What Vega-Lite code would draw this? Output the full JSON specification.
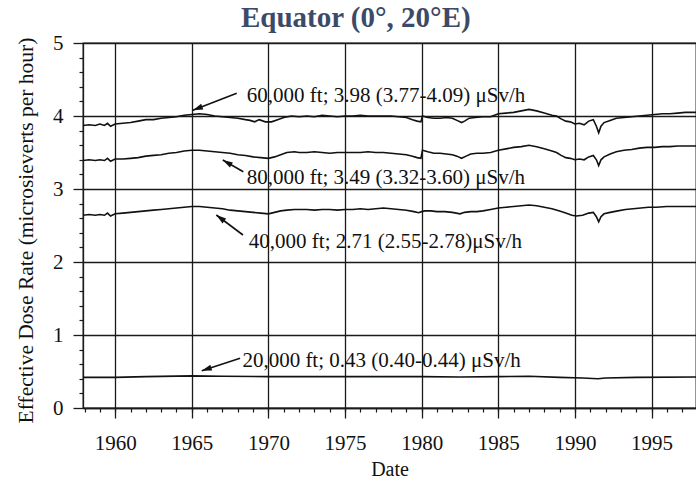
{
  "$schema": "https://vega.github.io/schema/vega-lite/v6.json",
  "autosize": {"type": "none"},
  "width": 613,
  "height": 365,
  "padding": {"left": 83, "top": 43, "right": 0, "bottom": 72},
  "background": "white",
  "title": {
    "text": "Equator (0°, 20°E)",
    "font": "Liberation Serif",
    "fontSize": 29,
    "fontWeight": "bold",
    "color": "#3b4a68",
    "anchor": "start",
    "frame": "group",
    "dx": 158,
    "baseline": "alphabetic",
    "offset": -24
  },
  "config": {
    "view": {"stroke": "#1a1a1a", "strokeWidth": 1.3},
    "font": "Liberation Serif"
  },
  "datasets": {
    "series": [
      {"s":"60k","t":1957.9,"v":3.87},{"s":"60k","t":1958.3,"v":3.88},{"s":"60k","t":1958.7,"v":3.87},{"s":"60k","t":1959.0,"v":3.89},{"s":"60k","t":1959.3,"v":3.87},{"s":"60k","t":1959.5,"v":3.9},{"s":"60k","t":1959.7,"v":3.86},{"s":"60k","t":1960.0,"v":3.89},{"s":"60k","t":1960.5,"v":3.9},{"s":"60k","t":1961.0,"v":3.91},{"s":"60k","t":1961.5,"v":3.93},{"s":"60k","t":1962.0,"v":3.95},{"s":"60k","t":1962.5,"v":3.95},{"s":"60k","t":1963.0,"v":3.97},{"s":"60k","t":1963.5,"v":3.98},{"s":"60k","t":1964.0,"v":3.99},{"s":"60k","t":1964.5,"v":4.01},{"s":"60k","t":1965.0,"v":4.02},{"s":"60k","t":1965.5,"v":4.03},{"s":"60k","t":1966.0,"v":4.02},{"s":"60k","t":1966.5,"v":4.0},{"s":"60k","t":1967.0,"v":3.99},{"s":"60k","t":1967.5,"v":3.98},{"s":"60k","t":1968.0,"v":3.97},{"s":"60k","t":1968.5,"v":3.95},{"s":"60k","t":1968.8,"v":3.94},{"s":"60k","t":1969.1,"v":3.92},{"s":"60k","t":1969.4,"v":3.95},{"s":"60k","t":1969.8,"v":3.92},{"s":"60k","t":1970.2,"v":3.92},{"s":"60k","t":1970.6,"v":3.95},{"s":"60k","t":1971.0,"v":3.98},{"s":"60k","t":1971.5,"v":4.0},{"s":"60k","t":1972.0,"v":3.99},{"s":"60k","t":1972.5,"v":4.0},{"s":"60k","t":1973.0,"v":3.99},{"s":"60k","t":1973.5,"v":4.01},{"s":"60k","t":1974.0,"v":4.0},{"s":"60k","t":1974.5,"v":3.99},{"s":"60k","t":1975.0,"v":4.0},{"s":"60k","t":1975.5,"v":4.0},{"s":"60k","t":1976.0,"v":4.01},{"s":"60k","t":1976.5,"v":4.0},{"s":"60k","t":1977.0,"v":4.0},{"s":"60k","t":1977.5,"v":4.0},{"s":"60k","t":1978.0,"v":4.0},{"s":"60k","t":1978.5,"v":3.99},{"s":"60k","t":1979.0,"v":3.98},{"s":"60k","t":1979.4,"v":3.95},{"s":"60k","t":1979.7,"v":3.93},{"s":"60k","t":1979.95,"v":3.92},{"s":"60k","t":1980.05,"v":4.0},{"s":"60k","t":1980.4,"v":3.98},{"s":"60k","t":1980.8,"v":3.97},{"s":"60k","t":1981.2,"v":3.97},{"s":"60k","t":1981.6,"v":3.98},{"s":"60k","t":1982.0,"v":3.97},{"s":"60k","t":1982.3,"v":3.94},{"s":"60k","t":1982.6,"v":3.91},{"s":"60k","t":1982.8,"v":3.93},{"s":"60k","t":1983.1,"v":3.97},{"s":"60k","t":1983.5,"v":3.98},{"s":"60k","t":1984.0,"v":3.99},{"s":"60k","t":1984.5,"v":3.99},{"s":"60k","t":1985.0,"v":4.03},{"s":"60k","t":1985.5,"v":4.04},{"s":"60k","t":1986.0,"v":4.05},{"s":"60k","t":1986.5,"v":4.07},{"s":"60k","t":1987.0,"v":4.09},{"s":"60k","t":1987.5,"v":4.07},{"s":"60k","t":1988.0,"v":4.04},{"s":"60k","t":1988.5,"v":4.01},{"s":"60k","t":1988.8,"v":4.0},{"s":"60k","t":1989.1,"v":3.96},{"s":"60k","t":1989.4,"v":3.93},{"s":"60k","t":1989.7,"v":3.92},{"s":"60k","t":1990.0,"v":3.89},{"s":"60k","t":1990.3,"v":3.9},{"s":"60k","t":1990.6,"v":3.88},{"s":"60k","t":1990.9,"v":3.93},{"s":"60k","t":1991.2,"v":3.95},{"s":"60k","t":1991.4,"v":3.86},{"s":"60k","t":1991.55,"v":3.77},{"s":"60k","t":1991.7,"v":3.86},{"s":"60k","t":1991.9,"v":3.91},{"s":"60k","t":1992.3,"v":3.94},{"s":"60k","t":1992.7,"v":3.97},{"s":"60k","t":1993.2,"v":3.98},{"s":"60k","t":1993.7,"v":3.99},{"s":"60k","t":1994.2,"v":4.0},{"s":"60k","t":1994.7,"v":4.01},{"s":"60k","t":1995.2,"v":4.02},{"s":"60k","t":1995.7,"v":4.03},{"s":"60k","t":1996.2,"v":4.03},{"s":"60k","t":1996.7,"v":4.04},{"s":"60k","t":1997.2,"v":4.05},{"s":"60k","t":1997.9,"v":4.05},
      {"s":"80k","t":1957.9,"v":3.39},{"s":"80k","t":1958.3,"v":3.4},{"s":"80k","t":1958.7,"v":3.39},{"s":"80k","t":1959.0,"v":3.4},{"s":"80k","t":1959.3,"v":3.39},{"s":"80k","t":1959.5,"v":3.42},{"s":"80k","t":1959.7,"v":3.38},{"s":"80k","t":1960.0,"v":3.41},{"s":"80k","t":1960.5,"v":3.41},{"s":"80k","t":1961.0,"v":3.42},{"s":"80k","t":1961.5,"v":3.43},{"s":"80k","t":1962.0,"v":3.45},{"s":"80k","t":1962.5,"v":3.46},{"s":"80k","t":1963.0,"v":3.47},{"s":"80k","t":1963.5,"v":3.49},{"s":"80k","t":1964.0,"v":3.5},{"s":"80k","t":1964.5,"v":3.52},{"s":"80k","t":1965.0,"v":3.53},{"s":"80k","t":1965.5,"v":3.53},{"s":"80k","t":1966.0,"v":3.52},{"s":"80k","t":1966.5,"v":3.51},{"s":"80k","t":1967.0,"v":3.5},{"s":"80k","t":1967.5,"v":3.49},{"s":"80k","t":1968.0,"v":3.47},{"s":"80k","t":1968.5,"v":3.46},{"s":"80k","t":1969.0,"v":3.44},{"s":"80k","t":1969.5,"v":3.43},{"s":"80k","t":1970.0,"v":3.42},{"s":"80k","t":1970.4,"v":3.44},{"s":"80k","t":1970.8,"v":3.47},{"s":"80k","t":1971.2,"v":3.5},{"s":"80k","t":1971.7,"v":3.51},{"s":"80k","t":1972.0,"v":3.5},{"s":"80k","t":1972.5,"v":3.5},{"s":"80k","t":1973.0,"v":3.51},{"s":"80k","t":1973.5,"v":3.5},{"s":"80k","t":1974.0,"v":3.49},{"s":"80k","t":1974.5,"v":3.5},{"s":"80k","t":1975.0,"v":3.5},{"s":"80k","t":1975.5,"v":3.5},{"s":"80k","t":1976.0,"v":3.5},{"s":"80k","t":1976.5,"v":3.51},{"s":"80k","t":1977.0,"v":3.5},{"s":"80k","t":1977.5,"v":3.5},{"s":"80k","t":1978.0,"v":3.49},{"s":"80k","t":1978.5,"v":3.48},{"s":"80k","t":1979.0,"v":3.47},{"s":"80k","t":1979.4,"v":3.45},{"s":"80k","t":1979.7,"v":3.43},{"s":"80k","t":1979.95,"v":3.42},{"s":"80k","t":1980.05,"v":3.53},{"s":"80k","t":1980.4,"v":3.51},{"s":"80k","t":1980.8,"v":3.49},{"s":"80k","t":1981.2,"v":3.49},{"s":"80k","t":1981.6,"v":3.48},{"s":"80k","t":1982.0,"v":3.47},{"s":"80k","t":1982.3,"v":3.45},{"s":"80k","t":1982.6,"v":3.42},{"s":"80k","t":1982.9,"v":3.45},{"s":"80k","t":1983.2,"v":3.48},{"s":"80k","t":1983.6,"v":3.49},{"s":"80k","t":1984.0,"v":3.49},{"s":"80k","t":1984.5,"v":3.5},{"s":"80k","t":1985.0,"v":3.53},{"s":"80k","t":1985.5,"v":3.55},{"s":"80k","t":1986.0,"v":3.57},{"s":"80k","t":1986.5,"v":3.58},{"s":"80k","t":1987.0,"v":3.6},{"s":"80k","t":1987.5,"v":3.58},{"s":"80k","t":1988.0,"v":3.55},{"s":"80k","t":1988.5,"v":3.52},{"s":"80k","t":1988.8,"v":3.5},{"s":"80k","t":1989.1,"v":3.46},{"s":"80k","t":1989.4,"v":3.43},{"s":"80k","t":1989.7,"v":3.42},{"s":"80k","t":1990.0,"v":3.4},{"s":"80k","t":1990.3,"v":3.41},{"s":"80k","t":1990.6,"v":3.4},{"s":"80k","t":1990.9,"v":3.44},{"s":"80k","t":1991.2,"v":3.46},{"s":"80k","t":1991.4,"v":3.4},{"s":"80k","t":1991.55,"v":3.32},{"s":"80k","t":1991.7,"v":3.4},{"s":"80k","t":1991.9,"v":3.44},{"s":"80k","t":1992.3,"v":3.48},{"s":"80k","t":1992.7,"v":3.51},{"s":"80k","t":1993.2,"v":3.53},{"s":"80k","t":1993.7,"v":3.54},{"s":"80k","t":1994.2,"v":3.56},{"s":"80k","t":1994.7,"v":3.57},{"s":"80k","t":1995.2,"v":3.57},{"s":"80k","t":1995.7,"v":3.58},{"s":"80k","t":1996.2,"v":3.58},{"s":"80k","t":1996.7,"v":3.59},{"s":"80k","t":1997.2,"v":3.59},{"s":"80k","t":1997.9,"v":3.59},
      {"s":"40k","t":1957.9,"v":2.64},{"s":"40k","t":1958.3,"v":2.65},{"s":"40k","t":1958.7,"v":2.64},{"s":"40k","t":1959.0,"v":2.65},{"s":"40k","t":1959.3,"v":2.64},{"s":"40k","t":1959.5,"v":2.67},{"s":"40k","t":1959.7,"v":2.63},{"s":"40k","t":1960.0,"v":2.66},{"s":"40k","t":1960.5,"v":2.67},{"s":"40k","t":1961.0,"v":2.68},{"s":"40k","t":1961.5,"v":2.69},{"s":"40k","t":1962.0,"v":2.7},{"s":"40k","t":1962.5,"v":2.71},{"s":"40k","t":1963.0,"v":2.72},{"s":"40k","t":1963.5,"v":2.73},{"s":"40k","t":1964.0,"v":2.74},{"s":"40k","t":1964.5,"v":2.75},{"s":"40k","t":1965.0,"v":2.76},{"s":"40k","t":1965.5,"v":2.76},{"s":"40k","t":1966.0,"v":2.75},{"s":"40k","t":1966.5,"v":2.74},{"s":"40k","t":1967.0,"v":2.73},{"s":"40k","t":1967.5,"v":2.71},{"s":"40k","t":1968.0,"v":2.7},{"s":"40k","t":1968.5,"v":2.69},{"s":"40k","t":1969.0,"v":2.68},{"s":"40k","t":1969.5,"v":2.67},{"s":"40k","t":1970.0,"v":2.66},{"s":"40k","t":1970.4,"v":2.68},{"s":"40k","t":1970.8,"v":2.7},{"s":"40k","t":1971.2,"v":2.71},{"s":"40k","t":1971.7,"v":2.72},{"s":"40k","t":1972.5,"v":2.72},{"s":"40k","t":1973.0,"v":2.71},{"s":"40k","t":1973.5,"v":2.72},{"s":"40k","t":1974.0,"v":2.72},{"s":"40k","t":1974.5,"v":2.71},{"s":"40k","t":1975.0,"v":2.72},{"s":"40k","t":1975.5,"v":2.72},{"s":"40k","t":1976.0,"v":2.73},{"s":"40k","t":1976.5,"v":2.72},{"s":"40k","t":1977.0,"v":2.73},{"s":"40k","t":1977.5,"v":2.74},{"s":"40k","t":1978.0,"v":2.73},{"s":"40k","t":1978.5,"v":2.72},{"s":"40k","t":1979.0,"v":2.71},{"s":"40k","t":1979.5,"v":2.69},{"s":"40k","t":1979.8,"v":2.675},{"s":"40k","t":1980.0,"v":2.69},{"s":"40k","t":1980.2,"v":2.7},{"s":"40k","t":1980.6,"v":2.7},{"s":"40k","t":1981.0,"v":2.69},{"s":"40k","t":1981.5,"v":2.69},{"s":"40k","t":1982.0,"v":2.68},{"s":"40k","t":1982.5,"v":2.66},{"s":"40k","t":1982.8,"v":2.68},{"s":"40k","t":1983.2,"v":2.69},{"s":"40k","t":1983.6,"v":2.69},{"s":"40k","t":1984.0,"v":2.7},{"s":"40k","t":1984.5,"v":2.72},{"s":"40k","t":1985.0,"v":2.74},{"s":"40k","t":1985.5,"v":2.75},{"s":"40k","t":1986.0,"v":2.76},{"s":"40k","t":1986.5,"v":2.77},{"s":"40k","t":1987.0,"v":2.78},{"s":"40k","t":1987.5,"v":2.77},{"s":"40k","t":1988.0,"v":2.75},{"s":"40k","t":1988.5,"v":2.73},{"s":"40k","t":1989.0,"v":2.7},{"s":"40k","t":1989.4,"v":2.67},{"s":"40k","t":1989.8,"v":2.64},{"s":"40k","t":1990.1,"v":2.63},{"s":"40k","t":1990.5,"v":2.64},{"s":"40k","t":1990.9,"v":2.67},{"s":"40k","t":1991.2,"v":2.68},{"s":"40k","t":1991.4,"v":2.62},{"s":"40k","t":1991.55,"v":2.55},{"s":"40k","t":1991.7,"v":2.62},{"s":"40k","t":1991.9,"v":2.66},{"s":"40k","t":1992.3,"v":2.68},{"s":"40k","t":1992.8,"v":2.7},{"s":"40k","t":1993.3,"v":2.72},{"s":"40k","t":1993.8,"v":2.73},{"s":"40k","t":1994.3,"v":2.74},{"s":"40k","t":1994.8,"v":2.75},{"s":"40k","t":1995.3,"v":2.75},{"s":"40k","t":1996.0,"v":2.76},{"s":"40k","t":1996.7,"v":2.76},{"s":"40k","t":1997.3,"v":2.76},{"s":"40k","t":1997.9,"v":2.76},
      {"s":"20k","t":1957.9,"v":0.42},{"s":"20k","t":1960.0,"v":0.42},{"s":"20k","t":1962.0,"v":0.43},{"s":"20k","t":1965.0,"v":0.44},{"s":"20k","t":1967.0,"v":0.435},{"s":"20k","t":1970.0,"v":0.43},{"s":"20k","t":1975.0,"v":0.43},{"s":"20k","t":1980.0,"v":0.43},{"s":"20k","t":1982.5,"v":0.425},{"s":"20k","t":1985.0,"v":0.43},{"s":"20k","t":1987.0,"v":0.435},{"s":"20k","t":1989.0,"v":0.42},{"s":"20k","t":1990.5,"v":0.41},{"s":"20k","t":1991.5,"v":0.4},{"s":"20k","t":1992.0,"v":0.41},{"s":"20k","t":1994.0,"v":0.42},{"s":"20k","t":1997.9,"v":0.425}
    ],
    "notes": [
      {"s":"60k","tx":1968.59,"ty":4.196,"label":"60,000 ft; 3.98 (3.77-4.09) μSv/h"},
      {"s":"80k","tx":1968.58,"ty":3.063,"label":"80,000 ft; 3.49 (3.32-3.60) μSv/h"},
      {"s":"40k","tx":1968.72,"ty":2.19,"label":"40,000 ft; 2.71 (2.55-2.78)μSv/h"},
      {"s":"20k","tx":1968.3,"ty":0.557,"label":"20,000 ft; 0.43 (0.40-0.44) μSv/h"}
    ],
    "arrows": [
      {"s":"60k","x1":1967.93,"y1":4.31,"x2":1965.07,"y2":4.08},
      {"s":"80k","x1":1968.36,"y1":3.237,"x2":1967.02,"y2":3.397},
      {"s":"40k","x1":1968.34,"y1":2.37,"x2":1966.6,"y2":2.644},
      {"s":"20k","x1":1968.15,"y1":0.681,"x2":1965.65,"y2":0.511}
    ]
  },
  "resolve": {"axis": {"x": "independent", "y": "independent"}},
  "layer": [
    {
      "data": {"name": "series"},
      "mark": {"type": "line", "color": "#111111", "strokeWidth": 1.6, "clip": true},
      "encoding": {
        "x": {
          "field": "t", "type": "quantitative",
          "scale": {"domain": [1957.9, 1997.9], "nice": false, "zero": false},
          "axis": {
            "orient": "bottom",
            "values": [1960, 1965, 1970, 1975, 1980, 1985, 1990, 1995],
            "format": "d",
            "grid": true, "gridColor": "#1a1a1a", "gridWidth": 1.3, "gridOpacity": 1,
            "tickSize": 10, "tickColor": "#1a1a1a", "tickWidth": 1.3,
            "domainColor": "#1a1a1a", "domainWidth": 1.3,
            "labelFont": "Liberation Serif", "labelFontSize": 21, "labelColor": "#111111",
            "labelPadding": 14,
            "title": "Date",
            "titleFont": "Liberation Serif", "titleFontSize": 20, "titleFontWeight": "normal", "titleColor": "#111111",
            "titleBaseline": "alphabetic", "titleY": 67
          }
        },
        "y": {
          "field": "v", "type": "quantitative",
          "scale": {"domain": [0, 5], "nice": false, "zero": false},
          "axis": {
            "orient": "left",
            "values": [0, 1, 2, 3, 4, 5],
            "format": "d",
            "grid": true, "gridColor": "#1a1a1a", "gridWidth": 1.3, "gridOpacity": 1,
            "tickSize": 10, "tickColor": "#1a1a1a", "tickWidth": 1.3,
            "domainColor": "#1a1a1a", "domainWidth": 1.3,
            "labelFont": "Liberation Serif", "labelFontSize": 21, "labelColor": "#111111",
            "labelPadding": 10,
            "title": "Effective Dose Rate (microsieverts per hour)",
            "titleFont": "Liberation Serif", "titleFontSize": 21.5, "titleFontWeight": "normal", "titleColor": "#111111",
            "titleBaseline": "alphabetic", "titleX": -51, "titleY": 187, "titleAlign": "center", "titleAngle": -90
          }
        },
        "detail": {"field": "s"}
      }
    },
    {
      "data": {"name": "series"},
      "mark": {"type": "point", "opacity": 0},
      "encoding": {
        "x": {
          "field": "t", "type": "quantitative",
          "axis": {
            "orient": "bottom",
            "values": [1958,1959,1960,1961,1962,1963,1964,1965,1966,1967,1968,1969,1970,1971,1972,1973,1974,1975,1976,1977,1978,1979,1980,1981,1982,1983,1984,1985,1986,1987,1988,1989,1990,1991,1992,1993,1994,1995,1996,1997],
            "grid": false, "labels": false, "domain": false, "title": null,
            "tickSize": 4, "tickColor": "#1a1a1a", "tickWidth": 1.2
          }
        },
        "y": {
          "field": "v", "type": "quantitative",
          "axis": {
            "orient": "left",
            "values": [0.2,0.4,0.6,0.8,1.2,1.4,1.6,1.8,2.2,2.4,2.6,2.8,3.2,3.4,3.6,3.8,4.2,4.4,4.6,4.8],
            "grid": false, "labels": false, "domain": false, "title": null,
            "tickSize": 4, "tickColor": "#1a1a1a", "tickWidth": 1.2
          }
        }
      }
    },
    {
      "data": {"name": "arrows"},
      "mark": {"type": "rule", "color": "#111111", "strokeWidth": 1.6},
      "encoding": {
        "x": {"field": "x1", "type": "quantitative", "axis": null},
        "y": {"field": "y1", "type": "quantitative", "axis": null},
        "x2": {"field": "x2"},
        "y2": {"field": "y2"}
      }
    },
    {
      "data": {"name": "arrows"},
      "transform": [{"filter": "datum.s == '60k'"}],
      "mark": {"type": "point", "shape": "M0,0L0.6,2L-0.6,2Z", "filled": true, "color": "#111111", "opacity": 1, "size": 100, "angle": 249},
      "encoding": {
        "x": {"field": "x2", "type": "quantitative", "axis": null},
        "y": {"field": "y2", "type": "quantitative", "axis": null}
      }
    },
    {
      "data": {"name": "arrows"},
      "transform": [{"filter": "datum.s == '80k'"}],
      "mark": {"type": "point", "shape": "M0,0L0.6,2L-0.6,2Z", "filled": true, "color": "#111111", "opacity": 1, "size": 100, "angle": 300},
      "encoding": {
        "x": {"field": "x2", "type": "quantitative", "axis": null},
        "y": {"field": "y2", "type": "quantitative", "axis": null}
      }
    },
    {
      "data": {"name": "arrows"},
      "transform": [{"filter": "datum.s == '40k'"}],
      "mark": {"type": "point", "shape": "M0,0L0.6,2L-0.6,2Z", "filled": true, "color": "#111111", "opacity": 1, "size": 100, "angle": 307},
      "encoding": {
        "x": {"field": "x2", "type": "quantitative", "axis": null},
        "y": {"field": "y2", "type": "quantitative", "axis": null}
      }
    },
    {
      "data": {"name": "arrows"},
      "transform": [{"filter": "datum.s == '20k'"}],
      "mark": {"type": "point", "shape": "M0,0L0.6,2L-0.6,2Z", "filled": true, "color": "#111111", "opacity": 1, "size": 100, "angle": 252},
      "encoding": {
        "x": {"field": "x2", "type": "quantitative", "axis": null},
        "y": {"field": "y2", "type": "quantitative", "axis": null}
      }
    },
    {
      "data": {"name": "notes"},
      "mark": {"type": "text", "align": "left", "baseline": "alphabetic", "font": "Liberation Serif", "fontSize": 21, "color": "#111111"},
      "encoding": {
        "x": {"field": "tx", "type": "quantitative", "axis": null},
        "y": {"field": "ty", "type": "quantitative", "axis": null},
        "text": {"field": "label"}
      }
    }
  ]
}
